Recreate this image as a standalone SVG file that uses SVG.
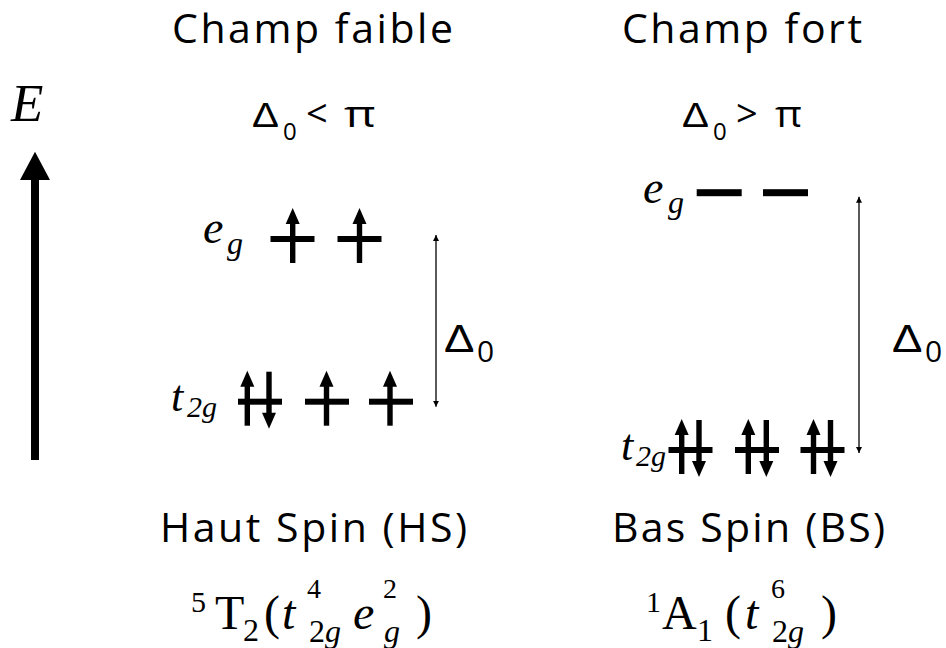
<svg xmlns="http://www.w3.org/2000/svg" xmlns:xlink="http://www.w3.org/1999/xlink" width="946" height="648" viewBox="0 0 946 648">
<defs>
<style>
.sans{font-family:"Open Sans","Noto Sans","Liberation Sans",sans-serif;fill:#000}
.lsans{font-family:"Liberation Sans","DejaVu Sans",sans-serif;fill:#000}
.serif{font-family:"Liberation Serif","DejaVu Serif",serif;fill:#000}
.it{font-style:italic}
.thin{stroke:#000;stroke-width:1.3;fill:none}
</style>
<g id="bar"><rect x="-22" y="-3" width="44" height="6" fill="#000"/></g>
<g id="up"><polygon points="0,-31 7,-15 -7,-15" fill="#000"/><rect x="-2.7" y="-16" width="5.4" height="40" fill="#000"/></g>
<g id="dn"><rect x="-2.7" y="-30" width="5.4" height="42" fill="#000"/><polygon points="-7,11 7,11 0,27" fill="#000"/></g>
<marker id="ah" viewBox="0 0 10 10" refX="10" refY="5" markerWidth="6" markerHeight="6" orient="auto-start-reverse" markerUnits="userSpaceOnUse"><path d="M0,0 L10,5 L0,10 z" fill="#000"/></marker>
</defs>
<rect width="946" height="648" fill="#fff"/>

<g id="title-left"><text class="sans" x="172" y="43" font-size="41" textLength="281" lengthAdjust="spacing">Champ faible</text></g>
<g id="title-right"><text class="sans" x="622" y="43" font-size="41" textLength="240" lengthAdjust="spacing">Champ fort</text></g>

<g id="cond-left">
<text class="lsans" x="0" y="127" font-size="35" transform="translate(252 0) scale(1.15 1)">Δ</text>
<text class="sans" x="283" y="140" font-size="24">0</text>
<text class="sans" x="306" y="127" font-size="38">&lt;</text>
<text class="sans" x="0" y="127" font-size="36" transform="translate(344 0) scale(1.35 1)">π</text>
</g>
<g id="cond-right">
<text class="lsans" x="0" y="127" font-size="35" transform="translate(682 0) scale(1.15 1)">Δ</text>
<text class="sans" x="713" y="140" font-size="24">0</text>
<text class="sans" x="736" y="127" font-size="38">&gt;</text>
<text class="sans" x="0" y="127" font-size="36" transform="translate(775 0) scale(1.15 1)">π</text>
</g>

<g id="energy-axis">
<text class="serif it" x="11" y="121" font-size="53">E</text>
<rect x="31" y="178" width="8" height="282" fill="#000"/>
<polygon points="35,151.7 50,180 20,180" fill="#000"/>
</g>

<g id="eg-left">
<text class="serif it" x="203" y="243" font-size="46">e</text><text class="serif it" x="227" y="254" font-size="32">g</text>
<use xlink:href="#bar" x="292.5" y="239"/><use xlink:href="#up" x="292.7" y="239"/>
<use xlink:href="#bar" x="359.5" y="239"/><use xlink:href="#up" x="359.5" y="239"/>
</g>

<g id="t2g-left">
<text class="serif it" x="171" y="411" font-size="44">t</text><text class="serif it" x="187" y="417" font-size="30">2g</text>
<use xlink:href="#bar" x="260" y="401.7"/><use xlink:href="#up" x="247.3" y="401.7"/><use xlink:href="#dn" x="269" y="401.7"/>
<use xlink:href="#bar" x="327" y="401.7"/><use xlink:href="#up" x="326.5" y="401.7"/>
<use xlink:href="#bar" x="391" y="401.7"/><use xlink:href="#up" x="390" y="401.7"/>
</g>

<g id="eg-right">
<text class="serif it" x="643" y="203" font-size="46">e</text><text class="serif it" x="668" y="213" font-size="32">g</text>
<rect x="696.7" y="189.2" width="45" height="7" fill="#000"/>
<rect x="763" y="189.2" width="45" height="7" fill="#000"/>
</g>

<g id="t2g-right">
<text class="serif it" x="621" y="460" font-size="44">t</text><text class="serif it" x="636" y="466" font-size="30">2g</text>
<use xlink:href="#bar" x="690.5" y="450"/><use xlink:href="#up" x="681.7" y="450"/><use xlink:href="#dn" x="699" y="450"/>
<use xlink:href="#bar" x="757" y="450"/><use xlink:href="#up" x="748.3" y="450"/><use xlink:href="#dn" x="766.3" y="450"/>
<use xlink:href="#bar" x="822.5" y="450"/><use xlink:href="#up" x="813.5" y="450"/><use xlink:href="#dn" x="830.5" y="450"/>
</g>

<g id="connectors">
<line class="thin" x1="436" y1="235" x2="436" y2="406.7" marker-start="url(#ah)" marker-end="url(#ah)"/>
<line class="thin" x1="859" y1="196.7" x2="859" y2="453" marker-start="url(#ah)" marker-end="url(#ah)"/>
</g>

<g id="delta-left">
<text class="lsans" x="0" y="352" font-size="38" transform="translate(444 0) scale(1.2 1)">Δ</text>
<text class="sans" x="477" y="362" font-size="30">0</text>
</g>
<g id="delta-right">
<text class="lsans" x="0" y="352" font-size="38" transform="translate(892 0) scale(1.2 1)">Δ</text>
<text class="sans" x="925" y="362" font-size="30">0</text>
</g>

<g id="spin-left"><text class="sans" x="160" y="542" font-size="41" textLength="307" lengthAdjust="spacing">Haut Spin (HS)</text></g>
<g id="spin-right"><text class="sans" x="612" y="542" font-size="41" textLength="273" lengthAdjust="spacing">Bas Spin (BS)</text></g>

<g id="term-left" class="serif" font-size="48">
<text x="191" y="612" font-size="30">5</text>
<text x="215" y="629">T</text>
<text x="243" y="641" font-size="32">2</text>
<text x="264" y="629">(</text>
<text x="282" y="629" class="it">t</text>
<text x="307" y="598" font-size="28">4</text>
<text x="309" y="642" font-size="32">2<tspan class="it">g</tspan></text>
<text x="353" y="629" class="it">e</text>
<text x="383" y="598" font-size="28">2</text>
<text x="384" y="642" font-size="32" class="it">g</text>
<text x="416" y="629">)</text>
</g>
<g id="term-right" class="serif" font-size="48">
<text x="646" y="612" font-size="30">1</text>
<text x="662" y="629">A</text>
<text x="697" y="641" font-size="32">1</text>
<text x="725" y="629">(</text>
<text x="745" y="629" class="it">t</text>
<text x="771" y="598" font-size="28">6</text>
<text x="772" y="642" font-size="32">2<tspan class="it">g</tspan></text>
<text x="821" y="629">)</text>
</g>
</svg>
